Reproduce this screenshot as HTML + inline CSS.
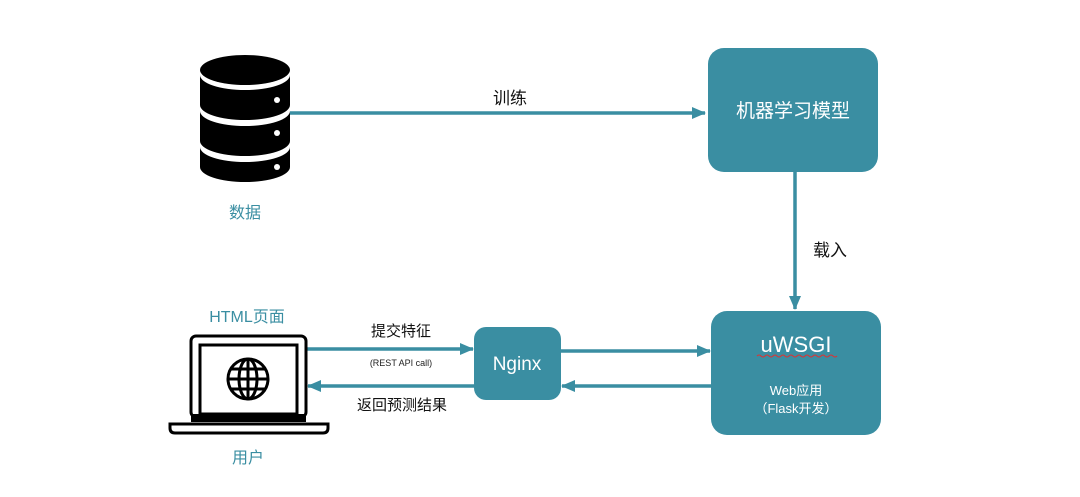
<!DOCTYPE html>
<html><head><meta charset="utf-8"><style>
body{margin:0;background:#fff}
text{font-family:"Liberation Sans","Noto Sans CJK SC",sans-serif}
</style></head><body>
<svg width="1080" height="492" viewBox="0 0 1080 492" xmlns="http://www.w3.org/2000/svg">
<defs><marker id="a" markerWidth="14" markerHeight="14" refX="13" refY="6" orient="auto" markerUnits="userSpaceOnUse"><path d="M0,0 L14,6 L0,12 Z" fill="#3a8ea2"/></marker></defs>
<g stroke="#3a8ea2" stroke-width="3.5" fill="none">
<line x1="290" y1="113" x2="705" y2="113" marker-end="url(#a)"/>
<line x1="795" y1="172" x2="795" y2="309" marker-end="url(#a)"/>
<line x1="307" y1="349" x2="473" y2="349" marker-end="url(#a)"/>
<line x1="474" y1="386" x2="308" y2="386" marker-end="url(#a)"/>
<line x1="561" y1="351" x2="710" y2="351" marker-end="url(#a)"/>
<line x1="711" y1="386" x2="562" y2="386" marker-end="url(#a)"/>
</g>
<rect x="708" y="48" width="170" height="124" rx="16" fill="#3a8ea2"/>
<rect x="711" y="311" width="170" height="124" rx="16" fill="#3a8ea2"/>
<rect x="474" y="327" width="87" height="73" rx="12" fill="#3a8ea2"/>
<text x="793" y="117" font-size="19" fill="#fff" text-anchor="middle">机器学习模型</text>
<text x="796" y="352" font-size="22" fill="#fff" text-anchor="middle">uWSGI</text>
<path d="M757 356 q2 -2 4 0 t4 0 t4 0 t4 0 t4 0 t4 0 t4 0 t4 0 t4 0 t4 0 t4 0 t4 0 t4 0 t4 0 t4 0 t4 0 t4 0 t4 0 t4 0 t4 0" stroke="#d33" stroke-width="1" fill="none"/>
<text x="796" y="395" font-size="13" fill="#fff" text-anchor="middle">Web应用</text>
<text x="796" y="413" font-size="13" fill="#fff" text-anchor="middle">（Flask开发）</text>
<text x="517" y="370" font-size="19" fill="#fff" text-anchor="middle">Nginx</text>
<text x="510" y="104" font-size="17" fill="#111" text-anchor="middle">训练</text>
<text x="830" y="256" font-size="17" fill="#111" text-anchor="middle">载入</text>
<text x="401" y="336" font-size="15" fill="#111" text-anchor="middle">提交特征</text>
<text x="401" y="366" font-size="9" fill="#222" text-anchor="middle">(REST API call)</text>
<text x="402" y="410" font-size="15" fill="#111" text-anchor="middle">返回预测结果</text>
<text x="245" y="218" font-size="16" fill="#3a8ea2" text-anchor="middle">数据</text>
<text x="247" y="322" font-size="16" fill="#3a8ea2" text-anchor="middle">HTML页面</text>
<text x="248" y="463" font-size="16" fill="#3a8ea2" text-anchor="middle">用户</text>
<g fill="#000">
<ellipse cx="245" cy="70" rx="45" ry="15"/>
<path d="M200 75 a45 15 0 0 0 90 0 v30 a45 15 0 0 1 -90 0 z"/>
<path d="M200 111 a45 15 0 0 0 90 0 v30 a45 15 0 0 1 -90 0 z"/>
<path d="M200 147 a45 15 0 0 0 90 0 v20 a45 15 0 0 1 -90 0 z"/>
</g>
<g fill="#fff"><circle cx="277" cy="100" r="3"/><circle cx="277" cy="133" r="3"/><circle cx="277" cy="167" r="3"/></g>
<g fill="none" stroke="#000" stroke-width="3">
<rect x="191" y="336" width="115" height="81" rx="5"/>
<rect x="200" y="345" width="97" height="69"/>
<path d="M170 424 h158 v4 q0 5 -5 5 h-148 q-5 0 -5 -5 z"/>
<circle cx="248" cy="379" r="20"/>
<ellipse cx="248" cy="379" rx="9" ry="20"/>
<line x1="228" y1="379" x2="268" y2="379"/>
<line x1="248" y1="359" x2="248" y2="399"/>
<line x1="231" y1="369" x2="265" y2="369"/>
<line x1="231" y1="389" x2="265" y2="389"/>
</g>
<rect x="191" y="414" width="115" height="8" fill="#000"/>
</svg>
</body></html>
